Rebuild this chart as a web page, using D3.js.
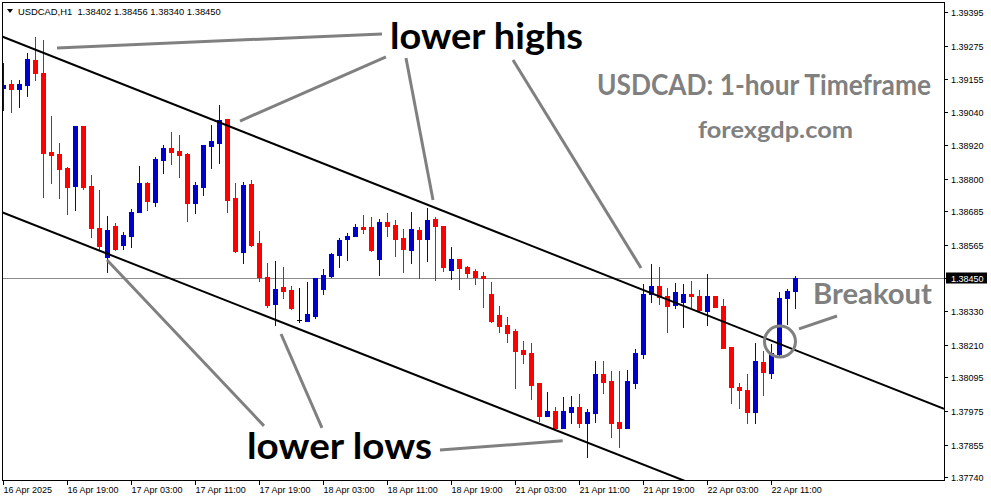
<!DOCTYPE html>
<html><head><meta charset="utf-8">
<script src="https://cdn.jsdelivr.net/npm/d3@7"></script>
<style>html,body{margin:0;padding:0;background:#fff;overflow:hidden}</style>
</head><body>
<svg id="chart" width="991" height="501"></svg>
<script>
// ---------- DATA ----------
const symbolName = "USDCAD,H1";
const headerValues = ["1.38402", "1.38456", "1.38340", "1.38450"];

const opens = [1.39125,1.39139,1.39121,1.39135,1.39224,1.39178,1.38897,1.38890,1.38840,1.38776,
1.38989,1.38776,1.38626,1.38523,1.38633,1.38566,1.38598,1.38683,1.38786,1.38719,
1.38868,1.38911,1.38900,1.38890,1.38715,1.38772,1.38918,1.38929,1.39014,1.38733,
1.38541,1.38783,1.38573,1.38452,1.38356,1.38416,1.38406,1.38299,1.38295,1.38313,
1.38409,1.38456,1.38530,1.38587,1.38598,1.38630,1.38630,1.38516,1.38648,1.38637,
1.38591,1.38548,1.38619,1.38587,1.38658,1.38633,1.38477,1.38516,1.38488,1.38473,
1.38456,1.38391,1.38317,1.38281,1.38260,1.38192,1.38182,1.38075,1.37958,1.37975,
1.37915,1.37972,1.37990,1.37933,1.37968,1.38107,1.38082,1.37936,1.37915,1.38075,
1.38178,1.38391,1.38420,1.38384,1.38352,1.38363,1.38391,1.38384,1.38331,1.38384,
1.38349,1.38203,1.38061,1.38050,1.37972,1.38150,1.38111,1.38178,1.38377,1.38402];
const highs = [1.39214,1.39153,1.39153,1.39249,1.39306,1.39295,1.39025,1.38929,1.38843,1.38989,
1.38989,1.38815,1.38762,1.38669,1.38644,1.38612,1.38694,1.38847,1.38790,1.38879,
1.38922,1.38968,1.38957,1.38893,1.38790,1.38922,1.38993,1.39064,1.39014,1.38786,
1.38790,1.38797,1.38616,1.38502,1.38509,1.38488,1.38420,1.38413,1.38434,1.38448,
1.38480,1.38538,1.38591,1.38609,1.38641,1.38673,1.38666,1.38658,1.38680,1.38655,
1.38623,1.38683,1.38630,1.38698,1.38666,1.38633,1.38559,1.38516,1.38491,1.38480,
1.38470,1.38434,1.38349,1.38310,1.38267,1.38224,1.38217,1.38075,1.38043,1.37990,
1.38025,1.38029,1.38036,1.37982,1.38153,1.38153,1.38118,1.38118,1.38121,1.38196,
1.38427,1.38498,1.38488,1.38413,1.38431,1.38427,1.38438,1.38406,1.38463,1.38384,
1.38374,1.38203,1.38075,1.38107,1.38217,1.38189,1.38214,1.38399,1.38409,1.38456];
const lows = [1.39046,1.39039,1.39057,1.39096,1.39153,1.38737,1.38786,1.38733,1.38676,1.38690,
1.38765,1.38594,1.38548,1.38470,1.38548,1.38552,1.38559,1.38683,1.38690,1.38705,
1.38822,1.38854,1.38808,1.38651,1.38680,1.38744,1.38840,1.38858,1.38683,1.38541,
1.38502,1.38562,1.38438,1.38345,1.38281,1.38377,1.38338,1.38292,1.38295,1.38306,
1.38391,1.38452,1.38488,1.38512,1.38598,1.38609,1.38544,1.38459,1.38598,1.38527,
1.38470,1.38502,1.38448,1.38509,1.38441,1.38473,1.38445,1.38409,1.38452,1.38427,
1.38345,1.38292,1.38256,1.38221,1.38057,1.38146,1.38018,1.37940,1.37958,1.37915,
1.37915,1.37933,1.37918,1.37812,1.37936,1.38039,1.37883,1.37847,1.37915,1.38057,
1.38164,1.38363,1.38356,1.38256,1.38342,1.38274,1.38345,1.38331,1.38281,1.38345,
1.38199,1.38004,1.37986,1.37933,1.37933,1.38032,1.38093,1.38167,1.38285,1.38340];
const closes = [1.39135,1.39121,1.39139,1.39228,1.39178,1.38893,1.38886,1.38836,1.38772,1.38989,
1.38772,1.38626,1.38562,1.38619,1.38552,1.38601,1.38683,1.38786,1.38722,1.38872,
1.38911,1.38897,1.38886,1.38715,1.38779,1.38922,1.38936,1.39011,1.38726,1.38544,
1.38779,1.38566,1.38452,1.38352,1.38409,1.38402,1.38342,1.38299,1.38320,1.38448,
1.38459,1.38534,1.38584,1.38598,1.38630,1.38623,1.38548,1.38648,1.38633,1.38587,
1.38552,1.38623,1.38587,1.38655,1.38633,1.38488,1.38516,1.38484,1.38466,1.38452,
1.38448,1.38295,1.38278,1.38253,1.38189,1.38178,1.38068,1.37958,1.37975,1.37915,
1.37975,1.37990,1.37933,1.37972,1.38107,1.38079,1.37933,1.37915,1.38082,1.38182,
1.38391,1.38420,1.38381,1.38349,1.38399,1.38391,1.38384,1.38335,1.38384,1.38345,
1.38199,1.38061,1.38050,1.37972,1.38153,1.38114,1.38182,1.38377,1.38402,1.38450];

const timeTickIndex = [0, 8, 16, 24, 32, 40, 48, 56, 64, 72, 80, 88, 96];
const timeTickLabels = ["16 Apr 2025", "16 Apr 19:00", "17 Apr 03:00", "17 Apr 11:00", "17 Apr 19:00",
  "18 Apr 03:00", "18 Apr 11:00", "18 Apr 19:00", "21 Apr 03:00", "21 Apr 11:00", "21 Apr 19:00",
  "22 Apr 03:00", "22 Apr 11:00"];
const priceTicks = [1.39395, 1.39275, 1.39155, 1.39040, 1.38920, 1.38800, 1.38685, 1.38565,
  1.38450, 1.38330, 1.38210, 1.38095, 1.37975, 1.37855, 1.37740];
const lastPrice = 1.38450;

// channel lines: [barIndex, price] anchor pairs
const upperChannel = [[0, 1.39306], [100, 1.38180]];
const lowerChannel = [[0, 1.38680], [80, 1.37784]];
// gray pointer segments, in [barIndex, price]
const pointerSegments = [
  [[6.69, 1.39267], [47.31, 1.39317]],
  [[29.56, 1.39007], [47.81, 1.39235]],
  [[50.31, 1.39231], [53.69, 1.38726]],
  [[63.69, 1.39224], [79.69, 1.38484]],
  [[12.94, 1.38512], [32.56, 1.37922]],
  [[34.69, 1.38249], [39.81, 1.37915]],
  [[54.56, 1.37836], [69.90, 1.37869]],
  [[99.44, 1.38267], [104.19, 1.38313]]
];
const breakoutPoint = [97.06, 1.38222];

const noteTexts = ["lower highs", "lower lows", "USDCAD: 1-hour Timeframe", "forexgdp.com", "Breakout"];

// ---------- LAYOUT ----------
const W = 991, H = 501;
const plot = {left: 2, top: 2, right: 944, bottom: 480};
const svg = d3.select("#chart");

const x = d3.scaleLinear().domain([0, 99]).range([3.5, 795.5]);
const y = d3.scaleLinear().domain([1.37740, 1.39395]).range([477, 12]);

svg.append("rect").attr("width", W).attr("height", H).attr("fill", "#fff");

svg.append("defs").append("clipPath").attr("id", "clip")
  .append("rect").attr("x", plot.left + 1).attr("y", plot.top + 1)
  .attr("width", plot.right - plot.left - 1).attr("height", plot.bottom - plot.top - 1);

const g = svg.append("g").attr("clip-path", "url(#clip)");

// bid line
g.append("line")
  .attr("x1", plot.left).attr("x2", plot.right)
  .attr("y1", Math.round(y(lastPrice)) + 0.5).attr("y2", Math.round(y(lastPrice)) + 0.5)
  .attr("stroke", "#8a8a8a").attr("stroke-width", 1);

// candles
const candles = d3.range(opens.length).map(i => ({i, o: opens[i], h: highs[i], l: lows[i], c: closes[i]}));
const colorOf = d => d.c > d.o ? "#0000cc" : (d.c < d.o ? "#ff0000" : "#000000");
const cg = g.append("g");
candles.forEach(d => {
  const cx = x(d.i);
  const yH = Math.round(y(d.h)), yL = Math.round(y(d.l));
  const yO = Math.round(y(d.o)), yC = Math.round(y(d.c));
  const col = colorOf(d);
  cg.append("rect").attr("x", cx - 0.5).attr("y", yH).attr("width", 1).attr("height", Math.max(1, yL - yH + 1)).attr("fill", col);
  const top = Math.min(yO, yC), bot = Math.max(yO, yC);
  cg.append("rect").attr("x", cx - 2.5).attr("y", top).attr("width", 5).attr("height", Math.max(1, bot - top + 1)).attr("fill", col);
});

// channel lines extended across plot
function extendLine(a, b) {
  const slope = (b[1] - a[1]) / (b[0] - a[0]);
  const i0 = x.invert(plot.left), i1 = x.invert(plot.right);
  return [[i0, a[1] + slope * (i0 - a[0])], [i1, a[1] + slope * (i1 - a[0])]];
}
[upperChannel, lowerChannel].forEach(ch => {
  const seg = extendLine(ch[0], ch[1]);
  g.append("line")
    .attr("x1", x(seg[0][0])).attr("y1", y(seg[0][1]))
    .attr("x2", x(seg[1][0])).attr("y2", y(seg[1][1]))
    .attr("stroke", "#000").attr("stroke-width", 2);
});

// gray pointers
pointerSegments.forEach(s => {
  g.append("line")
    .attr("x1", x(s[0][0])).attr("y1", y(s[0][1]))
    .attr("x2", x(s[1][0])).attr("y2", y(s[1][1]))
    .attr("stroke", "#808080").attr("stroke-width", 3);
});
g.append("circle").attr("cx", x(breakoutPoint[0])).attr("cy", y(breakoutPoint[1])).attr("r", 15.5)
  .attr("fill", "none").attr("stroke", "#808080").attr("stroke-width", 3);

// annotation texts (layout: x, baseline, width, font-size, color)
const noteLayout = [
  {x: 390, y: 49, w: 193, size: 37, color: "#000"},
  {x: 247, y: 459, w: 185, size: 37, color: "#000"},
  {x: 597, y: 95, w: 334, size: 28, color: "#808080"},
  {x: 698, y: 138, w: 155, size: 22.5, color: "#808080"},
  {x: 813, y: 304, w: 119, size: 28, color: "#808080"}
];
noteTexts.forEach((t, k) => {
  const L = noteLayout[k];
  g.append("text").text(t)
    .attr("x", L.x).attr("y", L.y)
    .attr("font-family", "Lato, 'Open Sans', sans-serif").attr("font-weight", "bold")
    .attr("font-size", L.size).attr("fill", L.color)
    .attr("textLength", L.w).attr("lengthAdjust", "spacingAndGlyphs");
});

// frame
svg.append("rect").attr("x", plot.left + 0.5).attr("y", plot.top + 0.5)
  .attr("width", plot.right - plot.left).attr("height", plot.bottom - plot.top)
  .attr("fill", "none").attr("stroke", "#000").attr("stroke-width", 1);

// right price axis
const fontSmall = "'Liberation Sans', Arial, sans-serif";
const ay = svg.append("g");
priceTicks.forEach(p => {
  const yy = Math.round(y(p)) + 0.5;
  ay.append("line").attr("x1", plot.right).attr("x2", plot.right + 4).attr("y1", yy).attr("y2", yy)
    .attr("stroke", "#000");
  ay.append("text").text(p.toFixed(5)).attr("x", 951).attr("y", yy).attr("dy", "0.35em")
    .attr("font-family", fontSmall).attr("font-size", 9).attr("fill", "#000");
});
// last price box
const yl = Math.round(y(lastPrice)) + 0.5;
ay.append("rect").attr("x", 946).attr("y", yl - 6).attr("width", 41).attr("height", 11).attr("fill", "#000");
ay.append("text").text(lastPrice.toFixed(5)).attr("x", 951).attr("y", yl).attr("dy", "0.35em")
  .attr("font-family", fontSmall).attr("font-size", 9).attr("fill", "#fff");

// bottom time axis
const ax = svg.append("g");
timeTickIndex.forEach((ti, k) => {
  const xx = Math.round(x(ti)) - 0.5;
  ax.append("line").attr("x1", xx).attr("x2", xx).attr("y1", plot.bottom).attr("y2", plot.bottom + 5)
    .attr("stroke", "#000");
  ax.append("text").text(timeTickLabels[k]).attr("x", xx).attr("y", 493)
    .attr("font-family", fontSmall).attr("font-size", 9).attr("fill", "#000");
});

// header
svg.append("path").attr("d", "M7,9 L13,9 L10,13 Z").attr("fill", "#000");
svg.append("text").text(symbolName + "  " + headerValues.join(" "))
  .attr("x", 18).attr("y", 14.5).attr("xml:space", "preserve").style("white-space", "pre")
  .attr("font-family", fontSmall).attr("font-size", 9.4).attr("fill", "#000");
</script>
</body></html>
